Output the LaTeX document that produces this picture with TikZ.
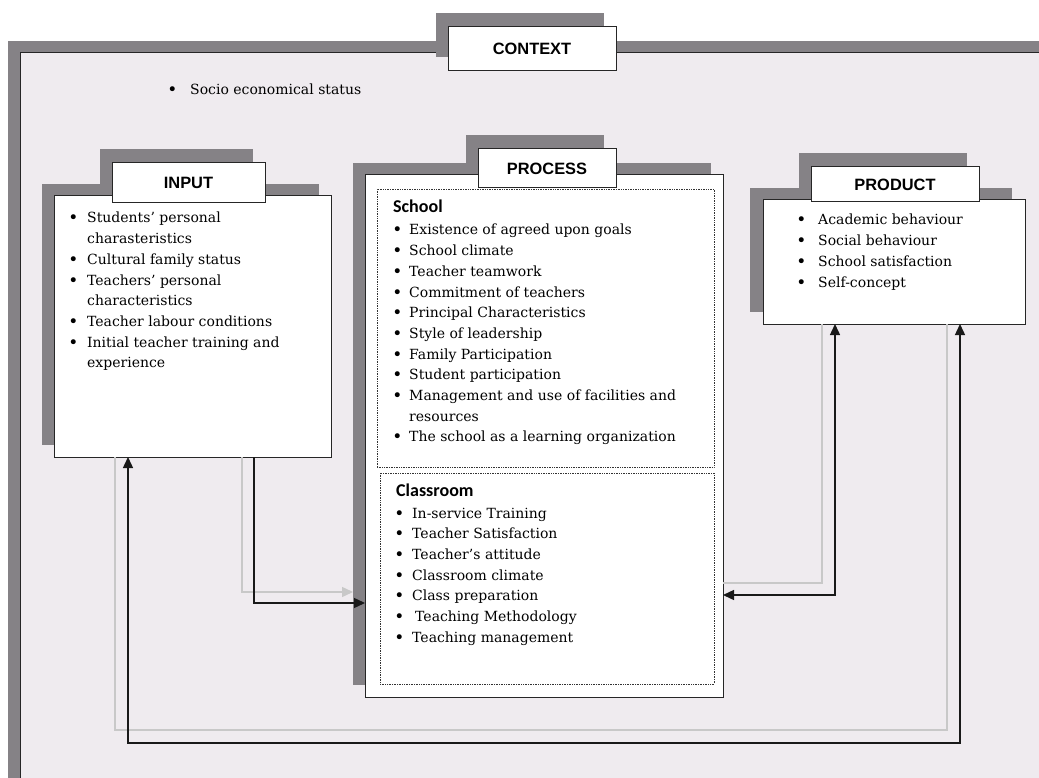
\documentclass[tikz,border=0pt]{standalone}
\usepackage{fontspec}
\setmainfont{DejaVu Serif}
\newfontfamily\labelfont{Liberation Sans}
\newfontfamily\partfont{Carlito}
\usepackage{array}
\usetikzlibrary{arrows.meta}

\definecolor{shadowgrey}{RGB}{133,130,134}
\definecolor{paper}{RGB}{239,235,239}
\definecolor{ghostgrey}{RGB}{200,200,200}

% bullet lists: #1 = indent of the text, #2 = rows
\newcommand{\blist}[2]{\begin{tabular}[t]{@{}p{#1}@{}l@{}}#2\end{tabular}}
\newcommand{\itm}{\raisebox{-1pt}{\fontsize{17}{17}\selectfont\textbullet} &}

\tikzset{
  shadowbox/.style={fill=shadowgrey, anchor=north west, inner sep=0pt, outer sep=0pt},
  box/.style={draw=black!85, fill=white, line width=1pt, anchor=north west, inner sep=0pt, outer sep=0pt},
  heading/.style={box, font=\labelfont\bfseries\fontsize{16.4}{18}\selectfont},
  area/.style={draw=black!80, densely dotted, line width=0.7pt, anchor=north west, inner sep=0pt, outer sep=0pt},
  part/.style={anchor=base west, inner sep=0pt, font=\partfont\bfseries\fontsize{18}{20}\selectfont},
  items/.style={anchor=base west, inner sep=0pt, font=\fontsize{14}{20.7}\selectfont},
  link/.style={line width=1.4pt, draw=black!90},
  ghostlink/.style={line width=1.4pt, draw=ghostgrey},
  tip/.style={-{Triangle[length=11pt,width=10pt]}},
  tips/.style={{Triangle[length=11pt,width=10pt]}-{Triangle[length=11pt,width=10pt]}},
}

\begin{document}
\begin{tikzpicture}[x=1pt,y=-1pt]
\path[use as bounding box, fill=white] (0,0) rectangle (1039,778);

% context
\node[shadowbox, minimum width=1060pt, minimum height=760pt] (contextshadow) at (8,41) {};
\node[box, fill=paper, minimum width=1060pt, minimum height=760pt] (context) at (20,53) {};
\node[shadowbox, minimum width=168pt, minimum height=44pt] at (436,13) {};
\node[heading, minimum width=168pt, minimum height=44pt] (contexttitle) at (448,27) {CONTEXT};
\node[items] (contextlist) at (167.1,95) {\blist{22.9pt}{\itm Socio economical status}};

% input
\node[shadowbox, minimum width=277pt, minimum height=261pt] (inputshadow) at (42,184) {};
\node[box, minimum width=277pt, minimum height=261pt] (input) at (54,196) {};
\node[shadowbox, minimum width=153pt, minimum height=40pt] at (100,149) {};
\node[heading, minimum width=153pt, minimum height=40pt] (inputtitle) at (112,163) {INPUT};
\node[items] (inputlist) at (68.1,223) {\blist{18.9pt}{%
  \itm Students’ personal\\
  & charasteristics\\
  \itm Cultural family status\\
  \itm Teachers’ personal\\
  & characteristics\\
  \itm Teacher labour conditions\\
  \itm Initial teacher training and\\
  & experience}};

% process
\node[shadowbox, minimum width=358pt, minimum height=522pt] (processshadow) at (353,163) {};
\node[box, minimum width=358pt, minimum height=522pt] (process) at (365,175) {};
\node[shadowbox, minimum width=138pt, minimum height=39pt] at (466,135) {};
\node[heading, minimum width=138pt, minimum height=39pt] (processtitle) at (478,149) {PROCESS};
\node[area, minimum width=337pt, minimum height=278pt] (school) at (377,189) {};
\node[area, minimum width=334pt, minimum height=211pt] (classroom) at (380,473) {};
\node[part] (schooltitle) at (393,213) {School};
\node[items] (schoollist) at (392.1,235) {\blist{16.9pt}{%
  \itm Existence of agreed upon goals\\
  \itm School climate\\
  \itm Teacher teamwork\\
  \itm Commitment of teachers\\
  \itm Principal Characteristics\\
  \itm Style of leadership\\
  \itm Family Participation\\
  \itm Student participation\\
  \itm Management and use of facilities and\\
  & resources\\
  \itm The school as a learning organization}};
\node[part] (classroomtitle) at (396,496) {Classroom};
\node[items] (classroomlist) at (394.1,518) {\blist{17.9pt}{%
  \itm In-service Training\\
  \itm Teacher Satisfaction\\
  \itm Teacher’s attitude\\
  \itm Classroom climate\\
  \itm Class preparation\\
  \itm \hspace{3pt}Teaching Methodology\\
  \itm Teaching management}};

% product
\node[shadowbox, minimum width=262pt, minimum height=124pt] (productshadow) at (750,188) {};
\node[box, minimum width=262pt, minimum height=124pt] (product) at (763,200) {};
\node[shadowbox, minimum width=168pt, minimum height=35pt] at (799,153) {};
\node[heading, minimum width=168pt, minimum height=35pt] (producttitle) at (811,167) {PRODUCT};
\node[items] (productlist) at (796.1,225) {\blist{21.9pt}{%
  \itm Academic behaviour\\
  \itm Social behaviour\\
  \itm School satisfaction\\
  \itm Self-concept}};

% links
\draw[ghostlink, tip] (input.south -| 242,0) |- (processshadow.west |- 0,592);
\draw[ghostlink] (process.east |- 0,583) -| (product.south -| 822,0);
\draw[ghostlink] (product.south -| 947,0) -- ++(0,406) -| (input.south -| 115,0);
\draw[link, tip] (input.south -| 254,0) |- (process.west |- 0,603);
\draw[link, tips] (process.east |- 0,595) -| (product.south -| 835,0);
\draw[link, tips] (product.south -| 960,0) -- ++(0,419) -| (input.south -| 128,0);
\end{tikzpicture}
\end{document}
